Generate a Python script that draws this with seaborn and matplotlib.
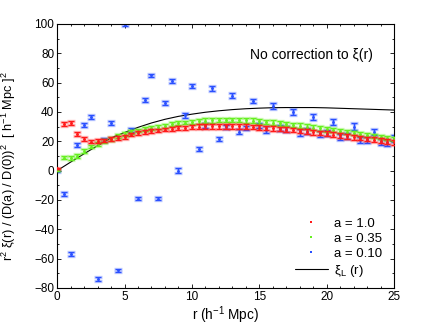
import numpy as np
import pandas as pd
import matplotlib
matplotlib.use("Agg")
import matplotlib.pyplot as plt
from matplotlib.lines import Line2D
from matplotlib.ticker import MultipleLocator
import seaborn as sns

# ---- data -----------------------------------------------------------
r_bins = [0.5 * k for k in range(51)]

xi_a100 = [1.5, 32, 32.7, 25.2, 21.4, 19.8, 20, 20.5, 21.6, 22.5, 23.2,
           24.6, 25.5, 26.2, 26.8, 27.3, 28, 28.4, 28.9, 29.3, 29.6,
           29.9, 30.1, 30.2, 30.3, 30.3, 30.2, 30.1, 29.9, 29.7, 29.4,
           29.1, 28.8, 28.4, 28.0, 27.6, 27.1, 26.6, 26.1, 25.6, 25.1,
           24.6, 24.0, 23.4, 22.8, 22.2, 21.6, 21.0, 20.4, 19.8, 19.2]

xi_a035 = [0.5, 8.9, 8.4, 10.2, 13.6, 16.4, 18.2, 20, 21.8, 23.6, 24.8,
           26.2, 27.3, 28.2, 29.1, 30, 30.7, 31.6, 32.3, 32.8, 33.3,
           33.7, 34.0, 34.3, 34.5, 34.6, 34.6, 34.5, 34.3, 34.0, 33.6,
           33.2, 32.8, 32.3, 31.8, 31.2, 30.6, 30.0, 29.4, 28.8, 28.2,
           27.6, 27.0, 26.3, 25.6, 25.0, 24.3, 23.6, 23.0, 22.3, 21.6]

xi_a010 = [0, -16, -57, 17.5, 31, 36.6, -74, 21, 32.6, -68, 99.5,
           27.7, -19, 48, 65, -19, 46, 61, 0, 37.8, 57.7,
           14.7, 31, 56, 21.5, 29.7, 51, 26.5, 29, 47.5, 31,
           28, 44, 29, 28.5, 40, 26, 27, 36.5, 25, 25.6,
           33, 23, 23.5, 30, 21, 21, 26.5, 19.5, 19, 22]

r_lin = [0, 1, 2, 3, 4, 5, 6, 7, 8, 9, 10, 11, 12, 13, 14, 15, 16, 17,
         18, 19, 20, 21, 22, 23, 24, 25]
xi_lin = [0, 5.8, 11.5, 17, 22.3, 26, 29.5, 32.5, 35, 37, 38.5, 39.8,
          40.8, 41.6, 42.2, 42.6, 42.9, 43, 43, 43, 42.8, 42.5, 42.2,
          41.9, 41.6, 41.3]

err_a100 = [0.6] + [1.3] * 20 + [1.6] * 30
err_a035 = [0.6] + [1.3] * 20 + [1.6] * 30
err_a010 = [0.6] + [1.2] * 16 + [1.6] * 14 + [2.2] * 20

labels = ["a = 1.0", "a = 0.35", "a = 0.10"]
colors = ["#ff1a1a", "#66f020", "#2a50ff"]

# ---- style -----------------------------------------------------------
sns.set_style("ticks")
plt.rcParams["font.family"] = ["Liberation Sans", "DejaVu Sans"]
plt.rcParams["mathtext.fontset"] = "custom"
plt.rcParams["mathtext.rm"] = "Liberation Sans"
plt.rcParams["mathtext.it"] = "Liberation Sans"
plt.rcParams["mathtext.sf"] = "Liberation Sans"
plt.rcParams["mathtext.default"] = "rm"
plt.rcParams["text.color"] = "black"
plt.rcParams["axes.labelcolor"] = "black"
plt.rcParams["xtick.color"] = "black"
plt.rcParams["ytick.color"] = "black"
plt.rcParams["axes.edgecolor"] = "black"

fig = plt.figure(figsize=(4.36, 3.28), dpi=100)
ax = fig.add_axes([0.131, 0.122, 0.773, 0.805])

df_lin = pd.DataFrame({"r": r_lin, "xi": xi_lin})
sns.lineplot(data=df_lin, x="r", y="xi", ax=ax, color="black", lw=0.8,
             zorder=1)

series = [xi_a100, xi_a035, xi_a010]
errs = [err_a100, err_a035, err_a010]
for vals, err, col, zo in zip(series[::-1], errs[::-1], colors[::-1], [2, 3, 4]):
    ax.errorbar(r_bins, vals, yerr=err, fmt="none", ecolor=col, alpha=0.3,
                elinewidth=2.4, capsize=3.2, capthick=2.4, zorder=zo)
    ax.errorbar(r_bins, vals, yerr=err, fmt="none", ecolor=col,
                elinewidth=0.9, capsize=2.2, capthick=0.9, zorder=zo)
    df = pd.DataFrame({"r": r_bins, "v": vals})
    sns.scatterplot(data=df, x="r", y="v", ax=ax, color=col, s=4,
                    linewidth=0, zorder=zo + 0.5)

ax.set_xlim(0, 25)
ax.set_ylim(-80, 100)
ax.xaxis.set_major_locator(MultipleLocator(5))
ax.xaxis.set_minor_locator(MultipleLocator(1))
ax.yaxis.set_major_locator(MultipleLocator(20))
ax.yaxis.set_minor_locator(MultipleLocator(10))
ax.tick_params(which="both", direction="in", top=True, right=True,
               labelsize=8.5, width=0.6, pad=2)
ax.tick_params(which="major", length=3)
ax.tick_params(which="minor", length=1.5)
for s in ax.spines.values():
    s.set_linewidth(0.8)

ax.set_xlabel(r"r (h$^{-1}$ Mpc)", fontsize=9.8)
ax.set_ylabel(r"r$^2$ ξ(r) / (D(a) / D(0))$^2$  [ h$^{-1}$ Mpc ]$^2$",
              fontsize=9.2)
ax.xaxis.set_label_coords(0.5, -0.062)
ax.yaxis.set_label_coords(-0.115, 0.46)

ax.text(0.938, 0.883, "No correction to ξ(r)", transform=ax.transAxes,
        ha="right", va="center", fontsize=10)

handles = [Line2D([], [], ls="none", marker="s", ms=1.6, color=c,
                  markeredgewidth=0) for c in colors]
handles.append(Line2D([], [], color="black", lw=0.8))
leg = ax.legend(handles, labels + [r"ξ$_L$ (r)"], loc="lower right",
                frameon=False, fontsize=9.5, handlelength=2.5,
                handletextpad=0.5, labelspacing=0.22,
                bbox_to_anchor=(1.0, -0.01))

fig.savefig("out.png", dpi=100)
